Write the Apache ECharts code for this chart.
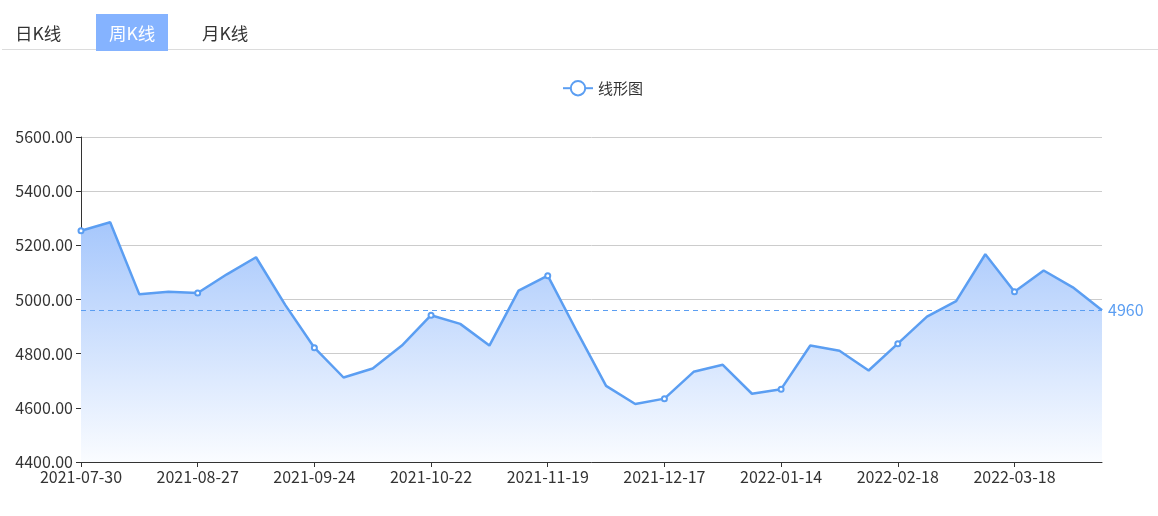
<!DOCTYPE html>
<html>
<head>
<meta charset="utf-8">
<script src="https://cdn.jsdelivr.net/npm/echarts@6/dist/echarts.min.js"></script>
<style>
  html, body { margin: 0; padding: 0; background: #fff; }
  body { width: 1158px; height: 516px; position: relative; overflow: hidden;
         font-family: "Microsoft YaHei", "Noto Sans CJK SC", sans-serif; }
  #tabs { position: absolute; left: 2px; top: 14px; width: 1156px; height: 35px;
          border-bottom: 1px solid #dcdcdc; }
  .tab { position: absolute; top: 0; height: 37px; line-height: 37px; font-size: 17.5px;
         color: #333; padding: 0 13px; }
  .tab.active { background: #85b3ff; color: #fff; }
  #chart { position: absolute; left: 0; top: 0; width: 1158px; height: 516px; }
</style>
</head>
<body>
<div id="chart"></div>
<div id="tabs">
  <div class="tab" style="left:0px;">日K线</div>
  <div class="tab active" style="left:94px;">周K线</div>
  <div class="tab" style="left:187px;">月K线</div>
</div>
<script>
const categories = [
  '2021-07-30','2021-08-06','2021-08-13','2021-08-20','2021-08-27','2021-09-03','2021-09-10','2021-09-17',
  '2021-09-24','2021-10-01','2021-10-08','2021-10-15','2021-10-22','2021-10-29','2021-11-05','2021-11-12',
  '2021-11-19','2021-11-26','2021-12-03','2021-12-10','2021-12-17','2021-12-24','2021-12-31','2022-01-07',
  '2022-01-14','2022-01-21','2022-01-28','2022-02-11','2022-02-18','2022-02-25','2022-03-04','2022-03-11',
  '2022-03-18','2022-03-25','2022-04-01','2022-04-08'
];
const values = [
  5254, 5285, 5019, 5029, 5024, 5093, 5156, 4980,
  4822, 4712, 4745, 4830, 4942, 4910, 4830, 5033,
  5088, 4882, 4681, 4614, 4634, 4733, 4759, 4652,
  4669, 4830, 4811, 4738, 4837, 4937, 4994, 5167,
  5029, 5107, 5045, 4960
];
const seriesName = '线形图';
const markValue = values[values.length - 1];
const yTicks = { min: 4400, max: 5600, interval: 200 };

const chart = echarts.init(document.getElementById('chart'));
const lineColor = '#5b9ef2';
chart.setOption({
  animation: false,
  textStyle: { fontFamily: '"Microsoft YaHei", "Noto Sans CJK SC", sans-serif' },
  legend: {
    top: 75, left: 557,
    itemWidth: 30, itemHeight: 18, itemGap: 10,
    textStyle: { color: '#333', fontSize: 15 },
    data: [seriesName]
  },
  grid: { left: 81, right: 56, top: 137, bottom: 54 },
  xAxis: {
    type: 'category',
    data: categories,
    boundaryGap: false,
    axisLine: { lineStyle: { color: '#333', width: 1 } },
    axisTick: { show: true, interval: 3, lineStyle: { color: '#333' } },
    axisLabel: { interval: 3, color: '#333', fontSize: 16, margin: 7 }
  },
  yAxis: {
    type: 'value',
    min: yTicks.min, max: yTicks.max, interval: yTicks.interval,
    axisLine: { show: true, lineStyle: { color: '#333', width: 1 } },
    axisTick: { show: true, lineStyle: { color: '#333' } },
    axisLabel: { color: '#333', fontSize: 16, margin: 8, formatter: v => v.toFixed(2) },
    splitLine: { lineStyle: { color: '#ccc' } }
  },
  series: [{
    name: seriesName,
    type: 'line',
    data: values,
    showAllSymbol: false,
    symbol: 'emptyCircle',
    symbolSize: 5,
    itemStyle: { color: lineColor, borderColor: lineColor, borderWidth: 1 },
    lineStyle: { color: lineColor, width: 2.5 },
    areaStyle: {
      opacity: 1,
      color: new echarts.graphic.LinearGradient(0, 0, 0, 1, [
        { offset: 0, color: 'rgb(166,199,252)' },
        { offset: 1, color: 'rgb(250,252,255)' }
      ])
    },
    markLine: {
      symbol: 'none',
      silent: true,
      lineStyle: { color: lineColor, type: [5, 4], width: 1 },
      label: { position: 'end', color: lineColor, fontSize: 16, distance: 6, formatter: p => String(p.value) },
      data: [{ yAxis: markValue }]
    }
  }]
});
</script>
</body>
</html>
